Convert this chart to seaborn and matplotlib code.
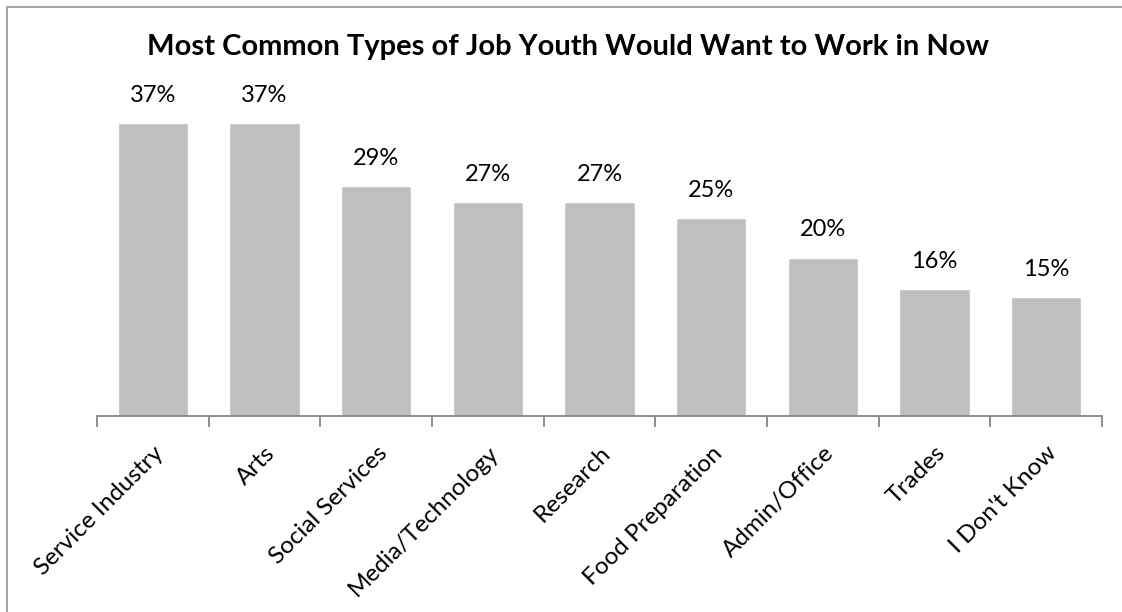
import matplotlib
matplotlib.use("Agg")
import matplotlib.pyplot as plt
from matplotlib.patches import Rectangle
import seaborn as sns
import pandas as pd
import numpy as np

categories = ["Service Industry", "Arts", "Social Services", "Media/Technology",
              "Research", "Food Preparation", "Admin/Office", "Trades", "I Don't Know"]
percent = [37, 37, 29, 27, 27, 25, 20, 16, 15]
title = "Most Common Types of Job Youth Would Want to Work in Now"

sns.set_theme(style="white")
plt.rcParams["font.family"] = ["Lato", "DejaVu Sans"]

df = pd.DataFrame({"category": categories, "percent": percent})

W, H = 1122, 612
fig = plt.figure(figsize=(W / 100, H / 100), dpi=100)
fig.patch.set_facecolor("white")

# outer chart frame (only top/left edges fall inside the canvas)
fig.add_artist(Rectangle((7 / W, -0.1), 1.2, 1 - 7 / H + 0.1, transform=fig.transFigure,
                         fill=False, edgecolor="#A6A6A6", linewidth=1.5))

ax = fig.add_axes([97 / W, (H - 416) / H, 1005 / W, 356 / H])
sns.barplot(data=df, x="category", y="percent", color="#BFBFBF", width=0.63,
            saturation=1, ax=ax)
ax.set_ylim(0, 356 / 7.92)
ax.set_xlim(-0.5, len(categories) - 0.5)

for i, v in enumerate(percent):
    ax.text(i, v + 2.2, f"{v}%", ha="center", va="bottom", fontsize=17, color="#000000")

for s in ["top", "right", "left"]:
    ax.spines[s].set_visible(False)
ax.spines["bottom"].set_color("#868686")
ax.spines["bottom"].set_linewidth(1.3)
ax.set_yticks([])
ax.set_xlabel("")
ax.set_ylabel("")

ax.set_xticks(range(len(categories)))
ax.set_xticklabels(categories, rotation=45, ha="right", rotation_mode="anchor",
                   fontsize=17.5, color="#000000")
ax.tick_params(axis="x", which="major", length=0, pad=19)
ax.set_xticks(np.arange(-0.5, len(categories), 1.0), minor=True)
ax.tick_params(axis="x", which="minor", length=8, width=1.3, color="#868686", bottom=True)

fig.text(568 / W, 1 - 47 / H, title, ha="center", va="center", fontsize=21,
         fontweight="bold", color="#000000")

fig.savefig("out.png", dpi=100, facecolor="white")
